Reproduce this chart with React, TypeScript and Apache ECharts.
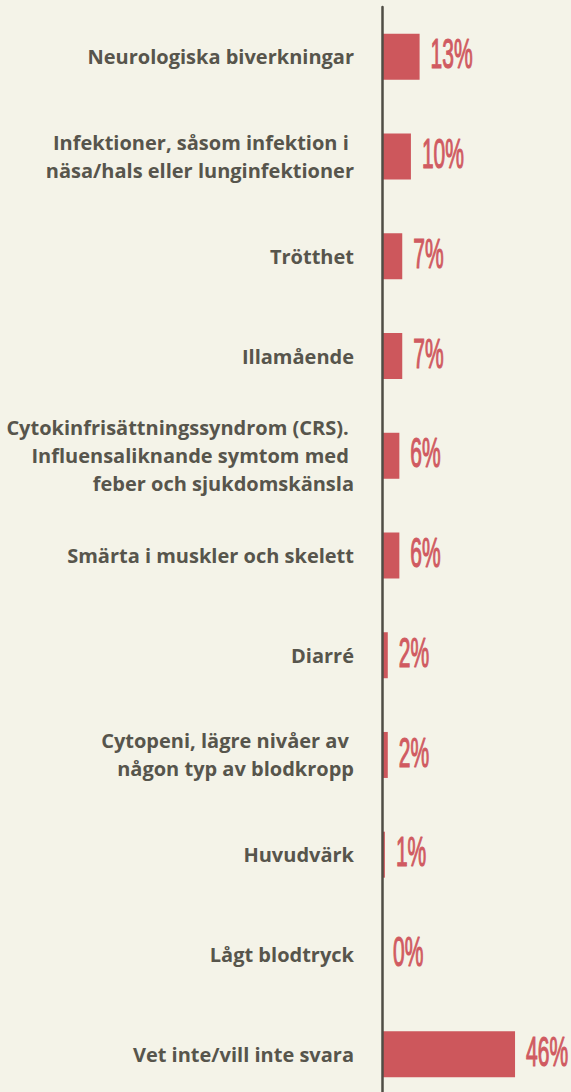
import React, { useEffect, useRef } from "react";
import * as echarts from "echarts";

const categories = [
  "Neurologiska biverkningar",
  "Infektioner, såsom infektion i \nnäsa/hals eller lunginfektioner",
  "Trötthet",
  "Illamående",
  "Cytokinfrisättningssyndrom (CRS). \nInfluensaliknande symtom med \nfeber och sjukdomskänsla",
  "Smärta i muskler och skelett",
  "Diarré",
  "Cytopeni, lägre nivåer av \nnågon typ av blodkropp",
  "Huvudvärk",
  "Lågt blodtryck",
  "Vet inte/vill inte svara",
];

const values = [13, 10, 7, 7, 6, 6, 2, 2, 1, 0, 46];

export default function App() {
  const ref = useRef<HTMLDivElement>(null);
  useEffect(() => {
    if (!ref.current) return;
    const chart = echarts.init(ref.current, null, { renderer: "svg" });
    chart.setOption({
      animation: false,
      backgroundColor: "#f4f3e8",
      grid: { left: 382, right: 1, top: 7, bottom: 0, containLabel: false },
      xAxis: {
        type: "value",
        min: 0,
        max: 65,
        show: false,
      },
      yAxis: {
        type: "category",
        data: categories,
        inverse: true,
        z: 5,
        axisLine: { show: true, lineStyle: { color: "#4f4d45", width: 2.5 } },
        axisTick: { show: false },
        axisLabel: {
          margin: 28,
          color: "#57554c",
          fontFamily: "'Open Sans', sans-serif",
          fontWeight: "bold",
          fontSize: 20,
          lineHeight: 28,
          align: "right",
        },
      },
      series: [
        {
          type: "bar",
          data: values,
          barWidth: 46,
          itemStyle: { color: "#cd575c" },
          silent: true,
        },
        {
          type: "custom",
          silent: true,
          data: values.map((v, i) => [v, i]),
          encode: { x: 0, y: 1 },
          renderItem: (params: any, api: any) => {
            const v = api.value(0);
            const c = api.coord([v, api.value(1)]);
            return {
              type: "text",
              x: c[0] + 11,
              y: c[1] - 3,
              scaleX: 0.5,
              style: {
                text: v + "%",
                fontSize: 42,
                fontWeight: "normal",
                fontFamily: "'Liberation Sans', sans-serif",
                fill: "#d05a61",
                stroke: "#d05a61",
                lineWidth: 1.2,
                align: "left",
                verticalAlign: "middle",
              },
            };
          },
        },
      ],
    });
    return () => chart.dispose();
  }, []);
  return (
    <div
      ref={ref}
      style={{ position: "fixed", left: 0, top: 0, width: 571, height: 1104, background: "#f4f3e8" }}
    />
  );
}
